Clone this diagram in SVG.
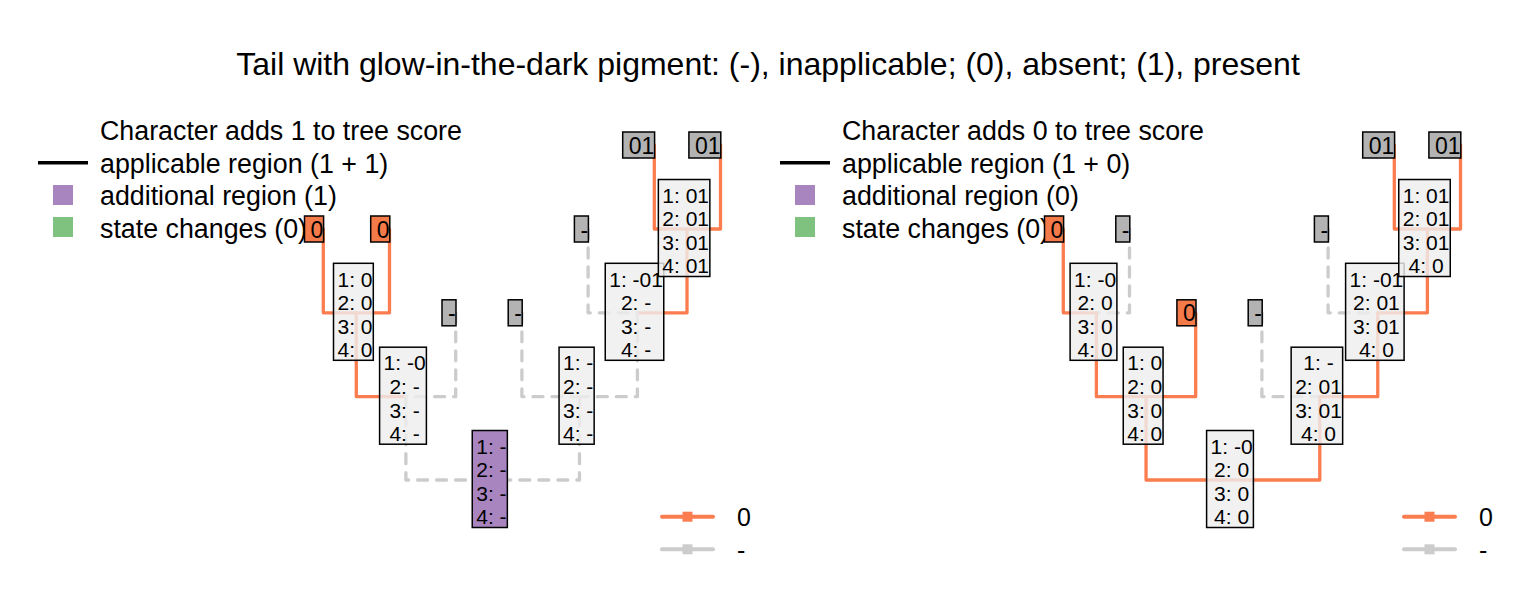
<svg xmlns="http://www.w3.org/2000/svg" width="1536" height="614" viewBox="0 0 1536 614">
<style>
text{font-family:"Liberation Sans",Arial,sans-serif;fill:#000}
.title{font-size:32px;text-anchor:middle}
.leg{font-size:26.8px}
.bleg{font-size:25px}
.tip{font-size:23px;text-anchor:end}
.nl{font-size:21px;text-anchor:middle}
.or{fill:none;stroke:#fb7d4f;stroke-width:3.3;stroke-linecap:round;stroke-linejoin:round}
.gr{fill:none;stroke:#cccccc;stroke-width:3.3;stroke-dasharray:10 9;stroke-linecap:round;stroke-linejoin:round}
.tbo{fill:#f47a4a;stroke:#000;stroke-width:1.5}
.tbg{fill:#b3b3b3;stroke:#000;stroke-width:1.5}
.nb{fill:#eeeeee;fill-opacity:0.82;stroke:#000;stroke-width:1.5}
.nbp{fill:#a985c0;stroke:#000;stroke-width:1.5}
</style>
<text class="title" x="768" y="75">Tail with glow-in-the-dark pigment: (-), inapplicable; (0), absent; (1), present</text>

<g id="legend-left">
<text class="leg" x="100" y="140">Character adds 1 to tree score</text>
<line x1="38" y1="162.7" x2="88" y2="162.7" stroke="#000" stroke-width="3.5"/>
<text class="leg" x="100" y="172.5">applicable region (1 + 1)</text>
<rect x="53" y="185" width="20" height="20" fill="#a985c0"/>
<text class="leg" x="100" y="205">additional region (1)</text>
<rect x="53" y="217" width="20" height="20" fill="#7fc17f"/>
<text class="leg" x="100" y="237.5">state changes (0)</text>
</g>
<g id="legend-right">
<text class="leg" x="842" y="140">Character adds 0 to tree score</text>
<line x1="780" y1="162.7" x2="830" y2="162.7" stroke="#000" stroke-width="3.5"/>
<text class="leg" x="842" y="172.5">applicable region (1 + 0)</text>
<rect x="795" y="185" width="20" height="20" fill="#a985c0"/>
<text class="leg" x="842" y="205">additional region (0)</text>
<rect x="795" y="217" width="20" height="20" fill="#7fc17f"/>
<text class="leg" x="842" y="237.5">state changes (0)</text>
</g>

<g id="connectors">
<path class="or" d="M323.3,229 V312.8 H356.3"/>
<path class="or" d="M389.5,229 V312.8 H356.3"/>
<path class="or" d="M356.3,312.8 V396.7 H405.9"/>
<path class="gr" d="M455.7,312.8 V396.7 H405.9"/>
<path class="gr" d="M405.9,396.7 V480 H492.7"/>
<path class="or" d="M654.3,145 V229 H687"/>
<path class="or" d="M720.5,145 V229 H687"/>
<path class="gr" d="M588.1,229 V312.8 H637.4"/>
<path class="or" d="M687,229 V312.8 H637.4"/>
<path class="gr" d="M521.9,312.8 V396.7 H579.5"/>
<path class="gr" d="M637.4,312.8 V396.7 H579.5"/>
<path class="gr" d="M579.5,396.7 V480 H492.7"/>

<path class="or" d="M1063.3,229 V312.8 H1096.4"/>
<path class="gr" d="M1129.5,229 V312.8 H1096.4"/>
<path class="or" d="M1096.4,312.8 V396.7 H1146.05"/>
<path class="or" d="M1195.7,312.8 V396.7 H1146.05"/>
<path class="or" d="M1146.05,396.7 V480 H1232.9"/>
<path class="or" d="M1394.3,145 V229 H1427.4"/>
<path class="or" d="M1460.5,145 V229 H1427.4"/>
<path class="gr" d="M1328.1,229 V312.8 H1377.75"/>
<path class="or" d="M1427.4,229 V312.8 H1377.75"/>
<path class="gr" d="M1261.9,312.8 V396.7 H1319.8"/>
<path class="or" d="M1377.75,312.8 V396.7 H1319.8"/>
<path class="or" d="M1319.8,396.7 V480 H1232.9"/>
</g>

<!-- left tree tips -->
<g id="L-t1"><rect class="tbo" x="304.5" y="216" width="19.1" height="26"/><text class="tip" x="323.3" y="237.5">0</text></g>
<g id="L-t2"><rect class="tbo" x="370.7" y="216" width="19.1" height="26"/><text class="tip" x="389.5" y="237.5">0</text></g>
<g id="L-t3"><rect class="tbg" x="442" y="299.8" width="14" height="26"/><text class="tip" x="455.7" y="321.3">-</text></g>
<g id="L-t4"><rect class="tbg" x="508.2" y="299.8" width="14" height="26"/><text class="tip" x="521.9" y="321.3">-</text></g>
<g id="L-t5"><rect class="tbg" x="574.4" y="216" width="14" height="26"/><text class="tip" x="588.1" y="237.5">-</text></g>
<g id="L-t6"><rect class="tbg" x="622.7" y="132" width="31.9" height="26"/><text class="tip" x="654.3" y="153.5">01</text></g>
<g id="L-t7"><rect class="tbg" x="688.9" y="132" width="31.9" height="26"/><text class="tip" x="720.5" y="153.5">01</text></g>

<!-- left tree internal nodes -->
<g id="L-A"><rect class="nb" x="333.5" y="263.3" width="39.8" height="97"/>
<text class="nl" x="355" y="286.5">1: 0</text><text class="nl" x="355" y="310">2: 0</text><text class="nl" x="355" y="333.6">3: 0</text><text class="nl" x="355" y="357.1">4: 0</text></g>
<g id="L-B"><rect class="nb" x="379.6" y="347.2" width="46.8" height="97"/>
<text class="nl" x="404.6" y="370.4">1: -0</text><text class="nl" x="404.6" y="393.9">2: -</text><text class="nl" x="404.6" y="417.5">3: -</text><text class="nl" x="404.6" y="441">4: -</text></g>
<g id="L-E"><rect class="nb" x="559.05" y="347.2" width="35.1" height="97"/>
<text class="nl" x="578.2" y="370.4">1: -</text><text class="nl" x="578.2" y="393.9">2: -</text><text class="nl" x="578.2" y="417.5">3: -</text><text class="nl" x="578.2" y="441">4: -</text></g>
<g id="L-C"><rect class="nb" x="605.25" y="263.3" width="58.5" height="97"/>
<text class="nl" x="636.1" y="286.5">1: -01</text><text class="nl" x="636.1" y="310">2: -</text><text class="nl" x="636.1" y="333.6">3: -</text><text class="nl" x="636.1" y="357.1">4: -</text></g>
<g id="L-D"><rect class="nb" x="658.35" y="179.5" width="51.5" height="97"/>
<text class="nl" x="685.7" y="202.7">1: 01</text><text class="nl" x="685.7" y="226.2">2: 01</text><text class="nl" x="685.7" y="249.8">3: 01</text><text class="nl" x="685.7" y="273.3">4: 01</text></g>
<g id="L-root"><rect class="nbp" x="472.25" y="430.5" width="35.1" height="97"/>
<text class="nl" x="491.4" y="453.7">1: -</text><text class="nl" x="491.4" y="477.2">2: -</text><text class="nl" x="491.4" y="500.8">3: -</text><text class="nl" x="491.4" y="524.3">4: -</text></g>

<!-- right tree tips -->
<g id="R-t1"><rect class="tbo" x="1044.5" y="216" width="19.1" height="26"/><text class="tip" x="1063.3" y="237.5">0</text></g>
<g id="R-t2"><rect class="tbg" x="1115.8" y="216" width="14" height="26"/><text class="tip" x="1129.5" y="237.5">-</text></g>
<g id="R-t3"><rect class="tbo" x="1176.9" y="299.8" width="19.1" height="26"/><text class="tip" x="1195.7" y="321.3">0</text></g>
<g id="R-t4"><rect class="tbg" x="1248.2" y="299.8" width="14" height="26"/><text class="tip" x="1261.9" y="321.3">-</text></g>
<g id="R-t5"><rect class="tbg" x="1314.4" y="216" width="14" height="26"/><text class="tip" x="1328.1" y="237.5">-</text></g>
<g id="R-t6"><rect class="tbg" x="1362.7" y="132" width="31.9" height="26"/><text class="tip" x="1394.3" y="153.5">01</text></g>
<g id="R-t7"><rect class="tbg" x="1428.9" y="132" width="31.9" height="26"/><text class="tip" x="1460.5" y="153.5">01</text></g>

<!-- right tree internal nodes -->
<g id="R-A"><rect class="nb" x="1070.1" y="263.3" width="46.8" height="97"/>
<text class="nl" x="1095.1" y="286.5">1: -0</text><text class="nl" x="1095.1" y="310">2: 0</text><text class="nl" x="1095.1" y="333.6">3: 0</text><text class="nl" x="1095.1" y="357.1">4: 0</text></g>
<g id="R-B"><rect class="nb" x="1123.25" y="347.2" width="39.8" height="97"/>
<text class="nl" x="1144.75" y="370.4">1: 0</text><text class="nl" x="1144.75" y="393.9">2: 0</text><text class="nl" x="1144.75" y="417.5">3: 0</text><text class="nl" x="1144.75" y="441">4: 0</text></g>
<g id="R-E"><rect class="nb" x="1291.15" y="347.2" width="51.5" height="97"/>
<text class="nl" x="1318.5" y="370.4">1: -</text><text class="nl" x="1318.5" y="393.9">2: 01</text><text class="nl" x="1318.5" y="417.5">3: 01</text><text class="nl" x="1318.5" y="441">4: 0</text></g>
<g id="R-C"><rect class="nb" x="1345.6" y="263.3" width="58.5" height="97"/>
<text class="nl" x="1376.45" y="286.5">1: -01</text><text class="nl" x="1376.45" y="310">2: 01</text><text class="nl" x="1376.45" y="333.6">3: 01</text><text class="nl" x="1376.45" y="357.1">4: 0</text></g>
<g id="R-D"><rect class="nb" x="1398.75" y="179.5" width="51.5" height="97"/>
<text class="nl" x="1426.1" y="202.7">1: 01</text><text class="nl" x="1426.1" y="226.2">2: 01</text><text class="nl" x="1426.1" y="249.8">3: 01</text><text class="nl" x="1426.1" y="273.3">4: 0</text></g>
<g id="R-root"><rect class="nb" x="1206.6" y="430.5" width="46.8" height="97"/>
<text class="nl" x="1231.6" y="453.7">1: -0</text><text class="nl" x="1231.6" y="477.2">2: 0</text><text class="nl" x="1231.6" y="500.8">3: 0</text><text class="nl" x="1231.6" y="524.3">4: 0</text></g>

<g id="state-legend-left">
<line x1="662" y1="516.7" x2="713" y2="516.7" stroke="#fb7d4f" stroke-width="4" stroke-linecap="round"/>
<rect x="682.5" y="511.7" width="10" height="10" fill="#fb7d4f"/>
<text class="bleg" x="737" y="526">0</text>
<line x1="662" y1="549.3" x2="713" y2="549.3" stroke="#cccccc" stroke-width="4" stroke-linecap="round"/>
<rect x="682.5" y="544.3" width="10" height="10" fill="#cccccc"/>
<text class="bleg" x="737" y="558.5">-</text>
</g>
<g id="state-legend-right">
<line x1="1404" y1="516.7" x2="1455" y2="516.7" stroke="#fb7d4f" stroke-width="4" stroke-linecap="round"/>
<rect x="1424.5" y="511.7" width="10" height="10" fill="#fb7d4f"/>
<text class="bleg" x="1479" y="526">0</text>
<line x1="1404" y1="549.3" x2="1455" y2="549.3" stroke="#cccccc" stroke-width="4" stroke-linecap="round"/>
<rect x="1424.5" y="544.3" width="10" height="10" fill="#cccccc"/>
<text class="bleg" x="1479" y="558.5">-</text>
</g>
</svg>
